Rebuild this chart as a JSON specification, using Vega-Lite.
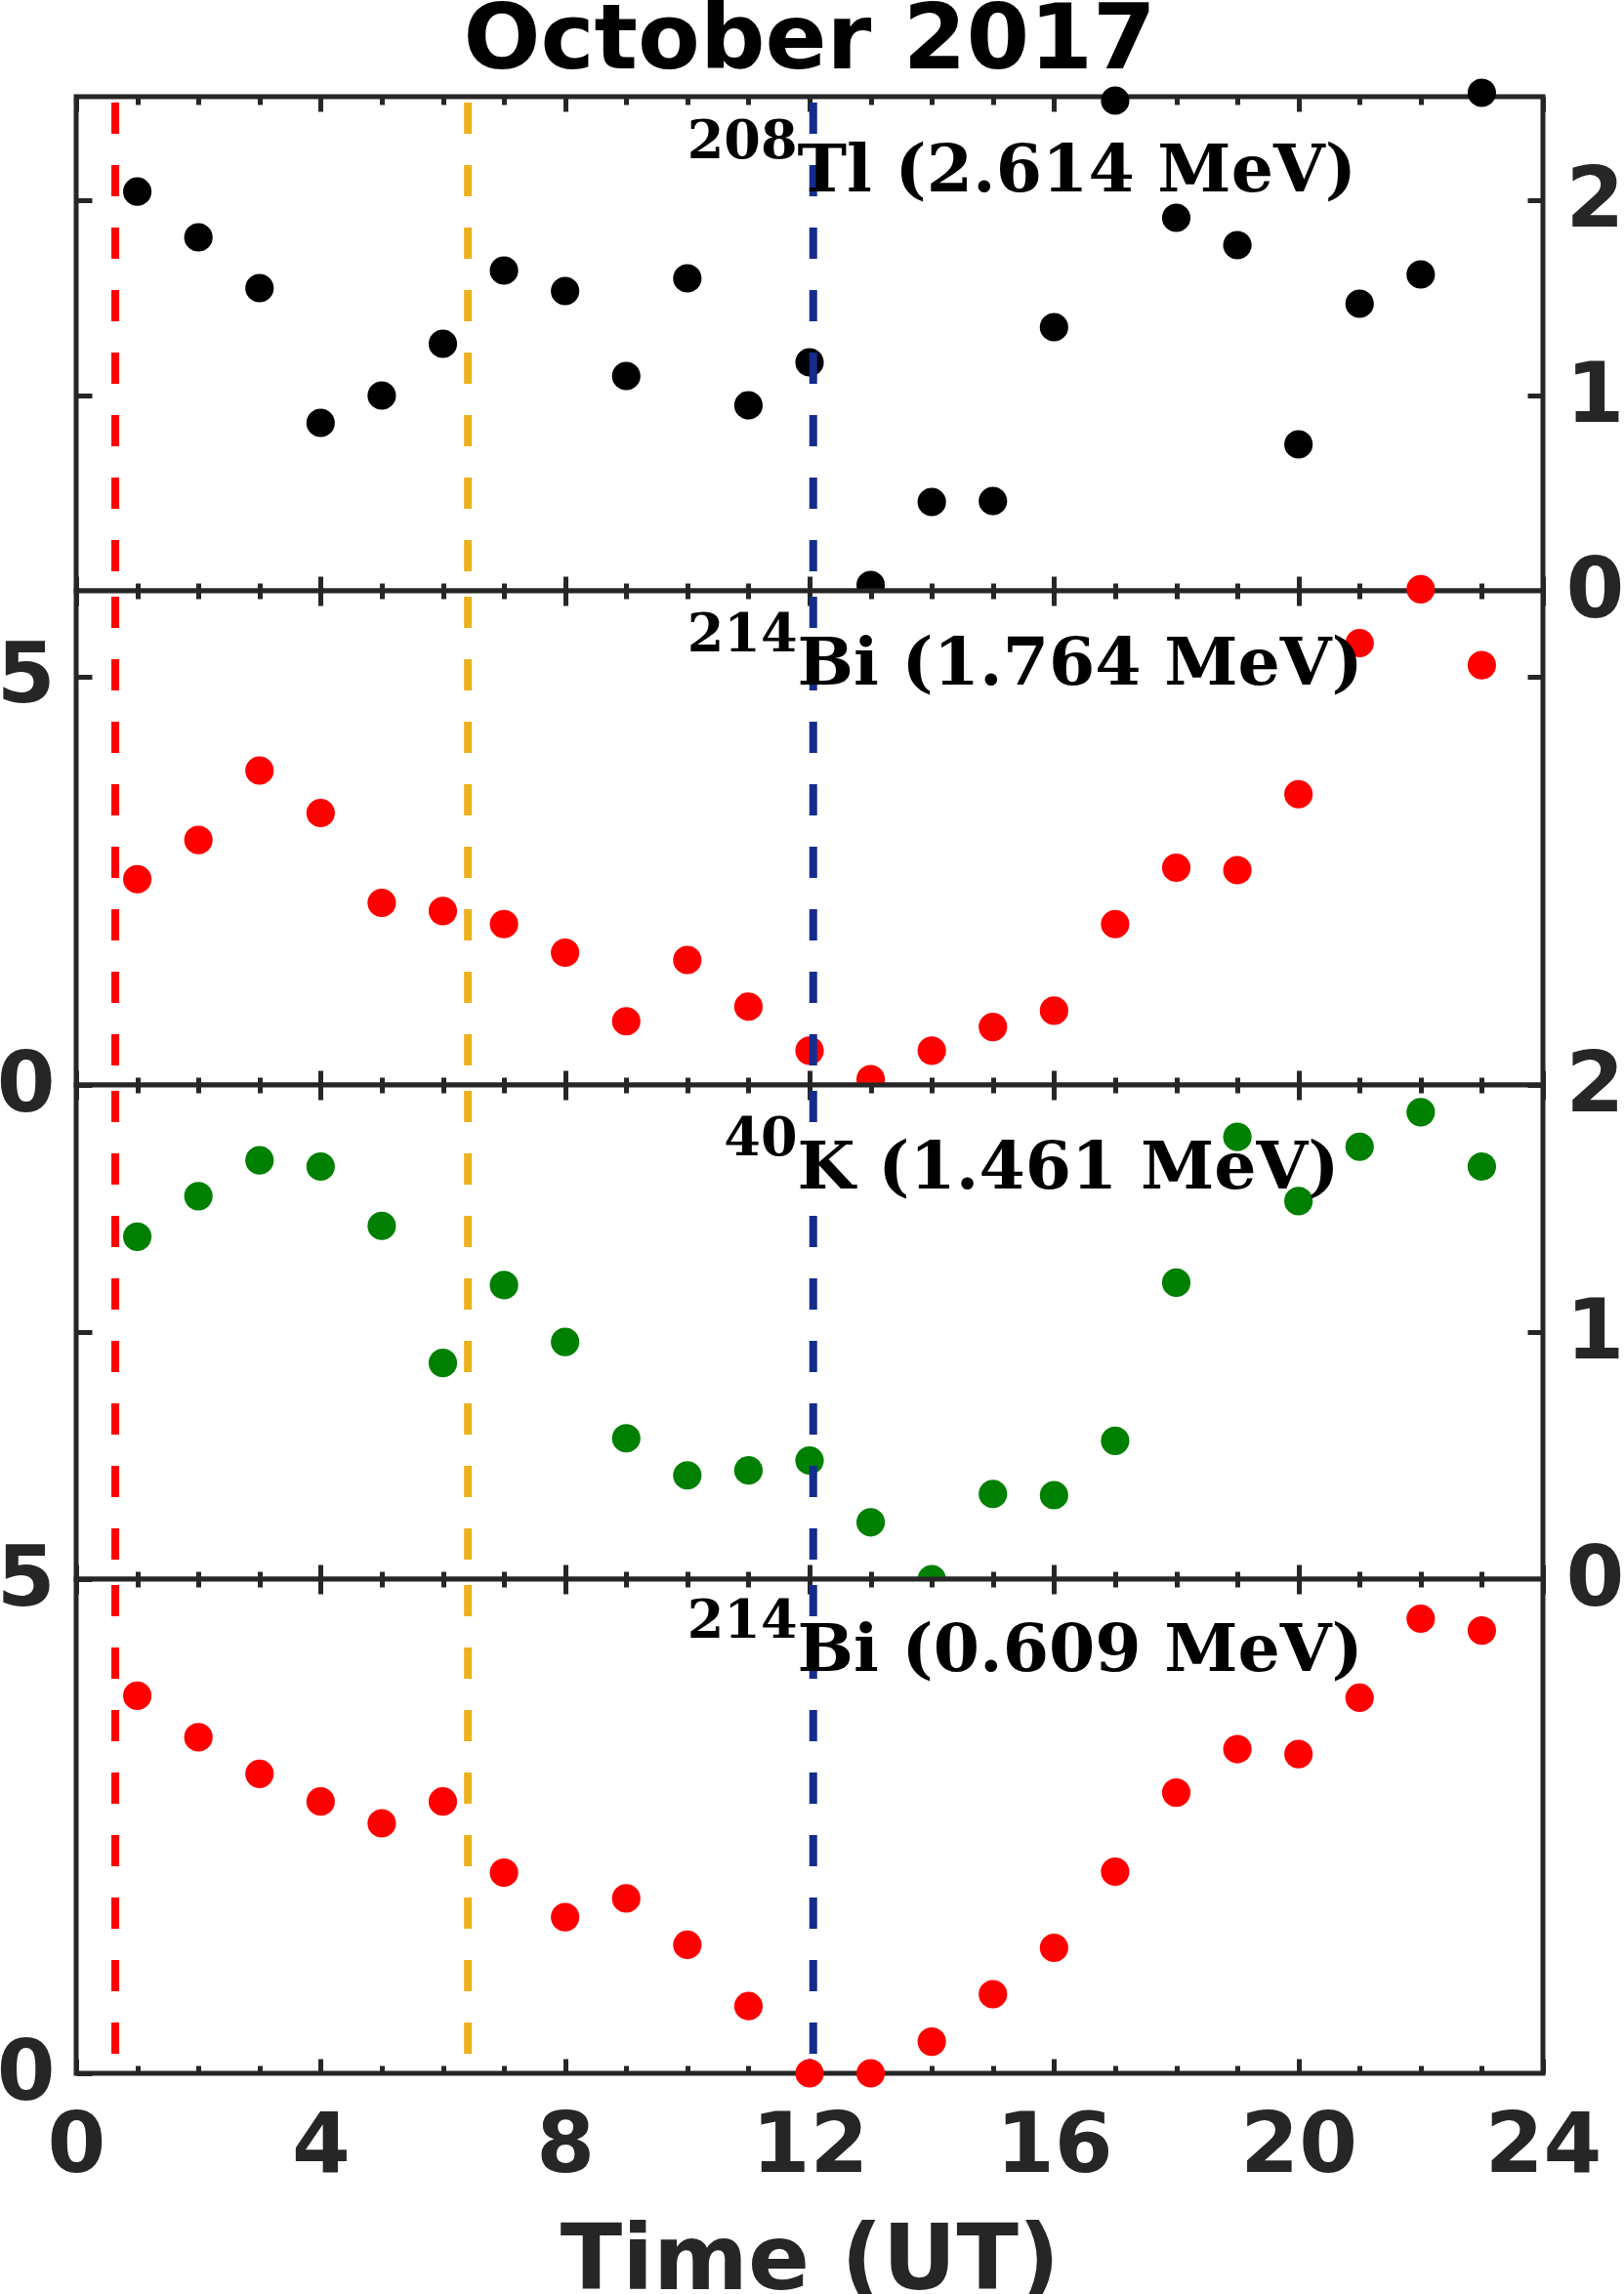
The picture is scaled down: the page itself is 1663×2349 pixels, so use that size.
{
  "$schema": "https://vega.github.io/schema/vega-lite/v6.json",
  "background": "white",
  "padding": {"left": -7, "top": -5, "right": 0, "bottom": 0},
  "autosize": {"type": "pad"},
  "bounds": "flush",
  "spacing": 0,
  "title": {"text": "October 2017", "font": "DejaVu Sans", "fontSize": 93, "fontWeight": "bold", "color": "#000000", "anchor": "middle", "frame": "group", "baseline": "alphabetic", "offset": -85},
  "datasets": {
    "tl208": [
      {"hour": 1, "rate": 2.044}, {"hour": 2, "rate": 1.81}, {"hour": 3, "rate": 1.55}, {"hour": 4, "rate": 0.86},
      {"hour": 5, "rate": 1.0}, {"hour": 6, "rate": 1.265}, {"hour": 7, "rate": 1.64}, {"hour": 8, "rate": 1.535},
      {"hour": 9, "rate": 1.1}, {"hour": 10, "rate": 1.6}, {"hour": 11, "rate": 0.95}, {"hour": 12, "rate": 1.17},
      {"hour": 13, "rate": 0.03}, {"hour": 14, "rate": 0.455}, {"hour": 15, "rate": 0.46}, {"hour": 16, "rate": 1.35},
      {"hour": 17, "rate": 2.51}, {"hour": 18, "rate": 1.91}, {"hour": 19, "rate": 1.77}, {"hour": 20, "rate": 0.75},
      {"hour": 21, "rate": 1.47}, {"hour": 22, "rate": 1.62}, {"hour": 23, "rate": 2.55}
    ],
    "bi1764": [
      {"hour": 1, "rate": 2.52}, {"hour": 2, "rate": 3.0}, {"hour": 3, "rate": 3.85}, {"hour": 4, "rate": 3.33},
      {"hour": 5, "rate": 2.23}, {"hour": 6, "rate": 2.13}, {"hour": 7, "rate": 1.97}, {"hour": 8, "rate": 1.62},
      {"hour": 9, "rate": 0.78}, {"hour": 10, "rate": 1.53}, {"hour": 11, "rate": 0.96}, {"hour": 12, "rate": 0.42},
      {"hour": 13, "rate": 0.07}, {"hour": 14, "rate": 0.42}, {"hour": 15, "rate": 0.71}, {"hour": 16, "rate": 0.91},
      {"hour": 17, "rate": 1.97}, {"hour": 18, "rate": 2.66}, {"hour": 19, "rate": 2.63}, {"hour": 20, "rate": 3.56},
      {"hour": 21, "rate": 5.41}, {"hour": 22, "rate": 6.07}, {"hour": 23, "rate": 5.14}
    ],
    "k40": [
      {"hour": 1, "rate": 1.386}, {"hour": 2, "rate": 1.55}, {"hour": 3, "rate": 1.695}, {"hour": 4, "rate": 1.67},
      {"hour": 5, "rate": 1.43}, {"hour": 6, "rate": 0.875}, {"hour": 7, "rate": 1.19}, {"hour": 8, "rate": 0.96},
      {"hour": 9, "rate": 0.57}, {"hour": 10, "rate": 0.42}, {"hour": 11, "rate": 0.44}, {"hour": 12, "rate": 0.48},
      {"hour": 13, "rate": 0.23}, {"hour": 14, "rate": 0.0}, {"hour": 15, "rate": 0.345}, {"hour": 16, "rate": 0.34},
      {"hour": 17, "rate": 0.56}, {"hour": 18, "rate": 1.2}, {"hour": 19, "rate": 1.79}, {"hour": 20, "rate": 1.53},
      {"hour": 21, "rate": 1.75}, {"hour": 22, "rate": 1.89}, {"hour": 23, "rate": 1.67}
    ],
    "bi609": [
      {"hour": 1, "rate": 3.82}, {"hour": 2, "rate": 3.4}, {"hour": 3, "rate": 3.03}, {"hour": 4, "rate": 2.75},
      {"hour": 5, "rate": 2.53}, {"hour": 6, "rate": 2.75}, {"hour": 7, "rate": 2.03}, {"hour": 8, "rate": 1.58},
      {"hour": 9, "rate": 1.77}, {"hour": 10, "rate": 1.3}, {"hour": 11, "rate": 0.68}, {"hour": 12, "rate": 0.0},
      {"hour": 13, "rate": 0.0}, {"hour": 14, "rate": 0.32}, {"hour": 15, "rate": 0.8}, {"hour": 16, "rate": 1.27},
      {"hour": 17, "rate": 2.04}, {"hour": 18, "rate": 2.84}, {"hour": 19, "rate": 3.28}, {"hour": 20, "rate": 3.23},
      {"hour": 21, "rate": 3.8}, {"hour": 22, "rate": 4.6}, {"hour": 23, "rate": 4.48}
    ],
    "events": [
      {"hour": 0.64, "event": "first"},
      {"hour": 6.41, "event": "second"},
      {"hour": 12.06, "event": "third"}
    ]
  },
  "vconcat": [
    {
      "width": 1502, "height": 506,
      "layer": [
        {
          "data": {"name": "tl208"},
          "mark": {"type": "circle", "size": 850, "opacity": 1, "color": "#000000"},
          "encoding": {
            "x": {"field": "hour", "type": "quantitative", "scale": {"domain": [0, 24], "nice": false},
              "axis": {"orient": "bottom", "values": [0,1,2,3,4,5,6,7,8,9,10,11,12,13,14,15,16,17,18,19,20,21,22,23,24], "tickSize": {"condition": {"test": "datum.value % 4 === 0", "value": -15}, "value": -8}, "labels": false, "title": null}},
            "y": {"field": "rate", "type": "quantitative", "scale": {"domain": [0, 2.53], "nice": false, "zero": false},
              "axis": {"orient": "right", "values": [0, 1, 2], "tickSize": -16, "labelPadding": 39, "title": null}}
          }
        },
        {
          "data": {"name": "events"},
          "mark": {"type": "rule", "strokeWidth": 8, "strokeDash": [32, 32], "strokeDashOffset": 58},
          "encoding": {
            "x": {"field": "hour", "type": "quantitative", "scale": {"domain": [0, 24], "nice": false},
              "axis": {"orient": "top", "values": [0,1,2,3,4,5,6,7,8,9,10,11,12,13,14,15,16,17,18,19,20,21,22,23,24], "tickSize": {"condition": {"test": "datum.value % 4 === 0", "value": -15}, "value": -8}, "labels": false, "title": null}},
            "color": {"field": "event", "type": "nominal", "scale": {"domain": ["first", "second", "third"], "range": ["#FF0000", "#EDB120", "#142C8C"]}, "legend": null}
          }
        },
        {
          "data": {"values": [{}]},
          "mark": {"type": "text", "font": "DejaVu Serif", "fontWeight": "bold", "fontSize": 54, "align": "right", "baseline": "alphabetic", "dy": -34, "color": "#000000"},
          "encoding": {
            "x": {"datum": 11.8, "type": "quantitative", "scale": {"domain": [0, 24], "nice": false}, "axis": null},
            "y": {"datum": 2.045, "type": "quantitative", "scale": {"domain": [0, 2.53], "nice": false, "zero": false},
              "axis": {"orient": "left", "values": [0, 1, 2], "tickSize": -16, "labels": false, "title": null}},
            "text": {"value": "208"}
          }
        },
        {
          "data": {"values": [{}]},
          "mark": {"type": "text", "font": "DejaVu Serif", "fontWeight": "bold", "fontSize": 68, "align": "left", "baseline": "alphabetic", "color": "#000000"},
          "encoding": {
            "x": {"datum": 11.8, "type": "quantitative", "scale": {"domain": [0, 24], "nice": false}, "axis": null},
            "y": {"datum": 2.045, "type": "quantitative", "scale": {"domain": [0, 2.53], "nice": false, "zero": false}, "axis": null},
            "text": {"value": "Tl (2.614 MeV)"}
          }
        }
      ],
      "resolve": {"axis": {"x": "independent", "y": "independent"}}
    },
    {
      "width": 1502, "height": 506,
      "layer": [
        {
          "data": {"name": "bi1764"},
          "mark": {"type": "circle", "size": 850, "opacity": 1, "color": "#FF0000"},
          "encoding": {
            "x": {"field": "hour", "type": "quantitative", "scale": {"domain": [0, 24], "nice": false},
              "axis": {"orient": "bottom", "values": [0,1,2,3,4,5,6,7,8,9,10,11,12,13,14,15,16,17,18,19,20,21,22,23,24], "tickSize": {"condition": {"test": "datum.value % 4 === 0", "value": -15}, "value": -8}, "labels": false, "title": null}},
            "y": {"field": "rate", "type": "quantitative", "scale": {"domain": [0, 6.05], "nice": false, "zero": false},
              "axis": {"orient": "left", "values": [0, 5], "tickSize": -16, "labelPadding": 38, "title": null}}
          }
        },
        {
          "data": {"name": "events"},
          "mark": {"type": "rule", "strokeWidth": 8, "strokeDash": [32, 32], "strokeDashOffset": 58},
          "encoding": {
            "x": {"field": "hour", "type": "quantitative", "scale": {"domain": [0, 24], "nice": false},
              "axis": {"orient": "top", "values": [0,1,2,3,4,5,6,7,8,9,10,11,12,13,14,15,16,17,18,19,20,21,22,23,24], "tickSize": {"condition": {"test": "datum.value % 4 === 0", "value": -15}, "value": -8}, "labels": false, "title": null}},
            "color": {"field": "event", "type": "nominal", "scale": {"domain": ["first", "second", "third"], "range": ["#FF0000", "#EDB120", "#142C8C"]}, "legend": null}
          }
        },
        {
          "data": {"values": [{}]},
          "mark": {"type": "text", "font": "DejaVu Serif", "fontWeight": "bold", "fontSize": 54, "align": "right", "baseline": "alphabetic", "dy": -34, "color": "#000000"},
          "encoding": {
            "x": {"datum": 11.8, "type": "quantitative", "scale": {"domain": [0, 24], "nice": false}, "axis": null},
            "y": {"datum": 4.9, "type": "quantitative", "scale": {"domain": [0, 6.05], "nice": false, "zero": false},
              "axis": {"orient": "right", "values": [0, 5], "tickSize": -16, "labels": false, "title": null}},
            "text": {"value": "214"}
          }
        },
        {
          "data": {"values": [{}]},
          "mark": {"type": "text", "font": "DejaVu Serif", "fontWeight": "bold", "fontSize": 68, "align": "left", "baseline": "alphabetic", "color": "#000000"},
          "encoding": {
            "x": {"datum": 11.8, "type": "quantitative", "scale": {"domain": [0, 24], "nice": false}, "axis": null},
            "y": {"datum": 4.9, "type": "quantitative", "scale": {"domain": [0, 6.05], "nice": false, "zero": false}, "axis": null},
            "text": {"value": "Bi (1.764 MeV)"}
          }
        }
      ],
      "resolve": {"axis": {"x": "independent", "y": "independent"}}
    },
    {
      "width": 1502, "height": 506,
      "layer": [
        {
          "data": {"name": "k40"},
          "mark": {"type": "circle", "size": 850, "opacity": 1, "color": "#008000"},
          "encoding": {
            "x": {"field": "hour", "type": "quantitative", "scale": {"domain": [0, 24], "nice": false},
              "axis": {"orient": "bottom", "values": [0,1,2,3,4,5,6,7,8,9,10,11,12,13,14,15,16,17,18,19,20,21,22,23,24], "tickSize": {"condition": {"test": "datum.value % 4 === 0", "value": -15}, "value": -8}, "labels": false, "title": null}},
            "y": {"field": "rate", "type": "quantitative", "scale": {"domain": [0, 2], "nice": false, "zero": false},
              "axis": {"orient": "right", "values": [0, 1, 2], "tickSize": -16, "labelPadding": 39, "title": null}}
          }
        },
        {
          "data": {"name": "events"},
          "mark": {"type": "rule", "strokeWidth": 8, "strokeDash": [32, 32], "strokeDashOffset": 58},
          "encoding": {
            "x": {"field": "hour", "type": "quantitative", "scale": {"domain": [0, 24], "nice": false},
              "axis": {"orient": "top", "values": [0,1,2,3,4,5,6,7,8,9,10,11,12,13,14,15,16,17,18,19,20,21,22,23,24], "tickSize": {"condition": {"test": "datum.value % 4 === 0", "value": -15}, "value": -8}, "labels": false, "title": null}},
            "color": {"field": "event", "type": "nominal", "scale": {"domain": ["first", "second", "third"], "range": ["#FF0000", "#EDB120", "#142C8C"]}, "legend": null}
          }
        },
        {
          "data": {"values": [{}]},
          "mark": {"type": "text", "font": "DejaVu Serif", "fontWeight": "bold", "fontSize": 54, "align": "right", "baseline": "alphabetic", "dy": -34, "color": "#000000"},
          "encoding": {
            "x": {"datum": 11.8, "type": "quantitative", "scale": {"domain": [0, 24], "nice": false}, "axis": null},
            "y": {"datum": 1.58, "type": "quantitative", "scale": {"domain": [0, 2], "nice": false, "zero": false},
              "axis": {"orient": "left", "values": [0, 1, 2], "tickSize": -16, "labels": false, "title": null}},
            "text": {"value": "40"}
          }
        },
        {
          "data": {"values": [{}]},
          "mark": {"type": "text", "font": "DejaVu Serif", "fontWeight": "bold", "fontSize": 68, "align": "left", "baseline": "alphabetic", "color": "#000000"},
          "encoding": {
            "x": {"datum": 11.8, "type": "quantitative", "scale": {"domain": [0, 24], "nice": false}, "axis": null},
            "y": {"datum": 1.58, "type": "quantitative", "scale": {"domain": [0, 2], "nice": false, "zero": false}, "axis": null},
            "text": {"value": "K (1.461 MeV)"}
          }
        }
      ],
      "resolve": {"axis": {"x": "independent", "y": "independent"}}
    },
    {
      "width": 1502, "height": 506,
      "layer": [
        {
          "data": {"name": "bi609"},
          "mark": {"type": "circle", "size": 850, "opacity": 1, "color": "#FF0000"},
          "encoding": {
            "x": {"field": "hour", "type": "quantitative", "scale": {"domain": [0, 24], "nice": false},
              "axis": {"orient": "bottom", "values": [0,1,2,3,4,5,6,7,8,9,10,11,12,13,14,15,16,17,18,19,20,21,22,23,24], "tickSize": {"condition": {"test": "datum.value % 4 === 0", "value": -15}, "value": -8}, "labelExpr": "datum.value % 4 === 0 ? datum.label : ''", "labelPadding": 47, "title": "Time (UT)", "titleFont": "DejaVu Sans", "titleFontWeight": "bold", "titleFontSize": 93, "titleColor": "#262626", "titlePadding": 23}},
            "y": {"field": "rate", "type": "quantitative", "scale": {"domain": [0, 5], "nice": false, "zero": false},
              "axis": {"orient": "left", "values": [0, 5], "tickSize": -16, "labelPadding": 38, "title": null}}
          }
        },
        {
          "data": {"name": "events"},
          "mark": {"type": "rule", "strokeWidth": 8, "strokeDash": [32, 32], "strokeDashOffset": 58},
          "encoding": {
            "x": {"field": "hour", "type": "quantitative", "scale": {"domain": [0, 24], "nice": false},
              "axis": {"orient": "top", "values": [0,1,2,3,4,5,6,7,8,9,10,11,12,13,14,15,16,17,18,19,20,21,22,23,24], "tickSize": {"condition": {"test": "datum.value % 4 === 0", "value": -15}, "value": -8}, "labels": false, "title": null}},
            "color": {"field": "event", "type": "nominal", "scale": {"domain": ["first", "second", "third"], "range": ["#FF0000", "#EDB120", "#142C8C"]}, "legend": null}
          }
        },
        {
          "data": {"values": [{}]},
          "mark": {"type": "text", "font": "DejaVu Serif", "fontWeight": "bold", "fontSize": 54, "align": "right", "baseline": "alphabetic", "dy": -34, "color": "#000000"},
          "encoding": {
            "x": {"datum": 11.8, "type": "quantitative", "scale": {"domain": [0, 24], "nice": false}, "axis": null},
            "y": {"datum": 4.07, "type": "quantitative", "scale": {"domain": [0, 5], "nice": false, "zero": false}, "axis": null},
            "text": {"value": "214"}
          }
        },
        {
          "data": {"values": [{}]},
          "mark": {"type": "text", "font": "DejaVu Serif", "fontWeight": "bold", "fontSize": 68, "align": "left", "baseline": "alphabetic", "color": "#000000"},
          "encoding": {
            "x": {"datum": 11.8, "type": "quantitative", "scale": {"domain": [0, 24], "nice": false}, "axis": null},
            "y": {"datum": 4.07, "type": "quantitative", "scale": {"domain": [0, 5], "nice": false, "zero": false}, "axis": null},
            "text": {"value": "Bi (0.609 MeV)"}
          }
        }
      ],
      "resolve": {"axis": {"x": "independent", "y": "independent"}}
    }
  ],
  "config": {
    "view": {"stroke": "#262626", "strokeWidth": 5, "fill": "white"},
    "axis": {
      "grid": false, "domain": false,
      "labelFont": "DejaVu Sans", "labelFontWeight": "bold", "labelFontSize": 86, "labelColor": "#262626",
      "labelOverlap": false, "labelFlush": false,
      "tickColor": "#262626", "tickWidth": 5,
      "titleFont": "DejaVu Sans"
    }
  }
}
